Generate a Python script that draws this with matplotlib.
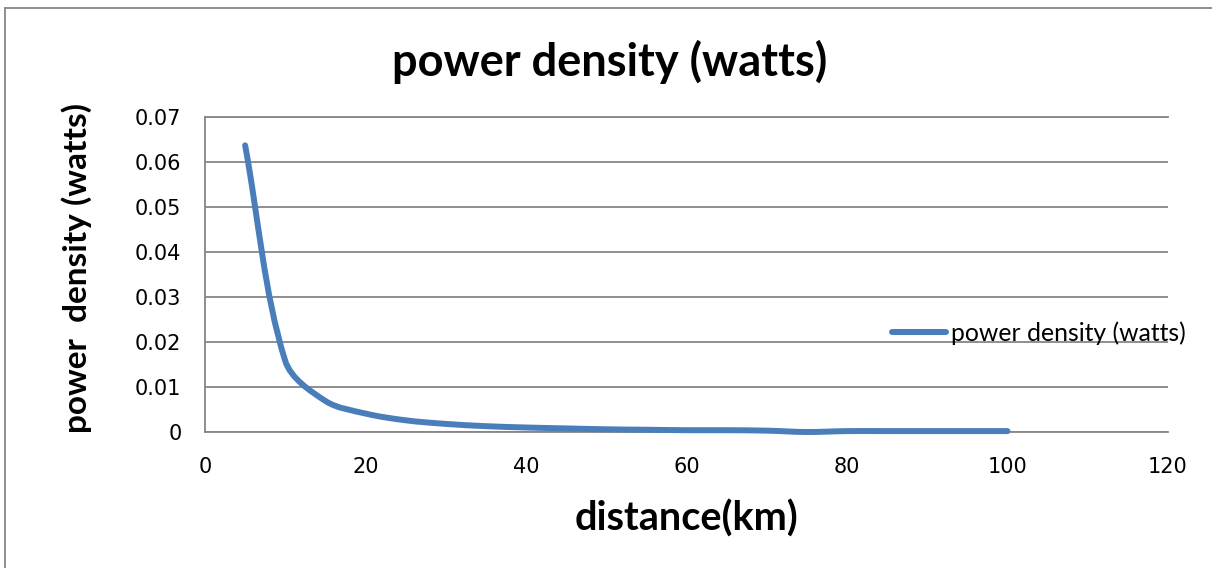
import numpy as np
import matplotlib
matplotlib.use("Agg")
import matplotlib.pyplot as plt
from matplotlib.path import Path
from matplotlib.patches import PathPatch
from matplotlib.lines import Line2D

# ---- data ----
distance_km = [5, 10, 15, 20, 25, 30, 35, 40, 45, 50, 55, 60, 65, 70, 75, 80, 85, 90, 95, 100]
power_density = [0.0637, 0.0158, 0.0069, 0.0041, 0.0026, 0.0018, 0.0013, 0.0010, 0.0008,
                 0.0006, 0.0005, 0.0004, 0.0004, 0.0003, 0.0000, 0.0002, 0.0002, 0.0002,
                 0.0002, 0.0002]
x_ticks = [0, 20, 40, 60, 80, 100, 120]
y_ticks = [0, 0.01, 0.02, 0.03, 0.04, 0.05, 0.06, 0.07]
y_tick_labels = ["0", "0.01", "0.02", "0.03", "0.04", "0.05", "0.06", "0.07"]
series_name = "power density (watts)"
chart_title = "power density (watts)"
x_label = "distance(km)"
y_label = "power  density (watts)"

plt.rcParams['font.family'] = ['Lato', 'DejaVu Sans']

W, H = 1212, 568
fig = plt.figure(figsize=(W / 100, H / 100), dpi=100)
fig.patch.set_facecolor("white")

L, R, T, B = 205, 1168, 117, 432
ax = fig.add_axes([L / W, 1 - B / H, (R - L) / W, (B - T) / H])
ax.set_xlim(0, 120)
ax.set_ylim(0, 0.07)

grid_c = "#868686"
line_c = "#4A7EBB"

ax.set_xticks(x_ticks)
ax.set_yticks(y_ticks)
ax.set_yticklabels(y_tick_labels)
ax.tick_params(axis="both", length=0, labelsize=15, colors="black")
for lab in ax.get_xticklabels() + ax.get_yticklabels():
    lab.set_family(["DejaVu Sans"])
ax.tick_params(axis="x", pad=18)
ax.tick_params(axis="y", pad=17)
ax.grid(axis="y", color=grid_c, linewidth=1.3)
ax.set_axisbelow(True)
ax.spines["right"].set_visible(False)
for s in ["left", "bottom", "top"]:
    ax.spines[s].set_color(grid_c)
    ax.spines[s].set_linewidth(1.3)

# smoothed line (bezier through the data points), computed in display space
pts = ax.transData.transform(np.column_stack([distance_km, power_density]).astype(float))
n = len(pts)
verts = [pts[0]]
codes = [Path.MOVETO]
for i in range(n - 1):
    p0 = pts[i - 1] if i > 0 else pts[i]
    p1 = pts[i]
    p2 = pts[i + 1]
    p3 = pts[i + 2] if i + 2 < n else pts[i + 1]
    d01 = np.hypot(*(p1 - p0)) + 1e-9
    d12 = np.hypot(*(p2 - p1)) + 1e-9
    d23 = np.hypot(*(p3 - p2)) + 1e-9
    c1 = p1 + (p2 - p0) * (d12 / (d01 + d12)) / 3.0 if i > 0 else p1 + (p2 - p1) / 3.0
    c2 = p2 - (p3 - p1) * (d12 / (d12 + d23)) / 3.0 if i + 2 < n else p2 - (p2 - p1) / 3.0
    verts += [c1, c2, p2]
    codes += [Path.CURVE4] * 3
verts = ax.transData.inverted().transform(np.array(verts))
path = Path(verts, codes)
patch = PathPatch(path, facecolor="none", edgecolor=line_c, linewidth=4.3,
                  capstyle="round", joinstyle="round", transform=ax.transData,
                  clip_on=False, zorder=3)
ax.add_patch(patch)

handle = Line2D([0], [0], color=line_c, linewidth=4.3, solid_capstyle="round")
leg = fig.legend([handle], [series_name], loc="center left",
                 bbox_to_anchor=(892 / W, 1 - 333 / H), frameon=False,
                 fontsize=17.8, handlelength=2.2, handletextpad=0.2,
                 borderaxespad=0, borderpad=0)

fig.text(610 / W, 1 - 62 / H, chart_title, ha="center", va="center",
         fontsize=32.5, fontweight="bold")
fig.text(686 / W, 1 - 519 / H, x_label, ha="center", va="center",
         fontsize=28.5, fontweight="bold")
fig.text(77 / W, 1 - 268 / H, y_label, ha="center", va="center",
         fontsize=24, fontweight="bold", rotation=90)

# chart border (left and top visible)
fig.add_artist(Line2D([5 / W, 5 / W], [0, 1 - 8 / H], color=grid_c, linewidth=1.3))
fig.add_artist(Line2D([5 / W, 1], [1 - 8 / H, 1 - 8 / H], color=grid_c, linewidth=1.3))

fig.savefig("out.png", dpi=100)
